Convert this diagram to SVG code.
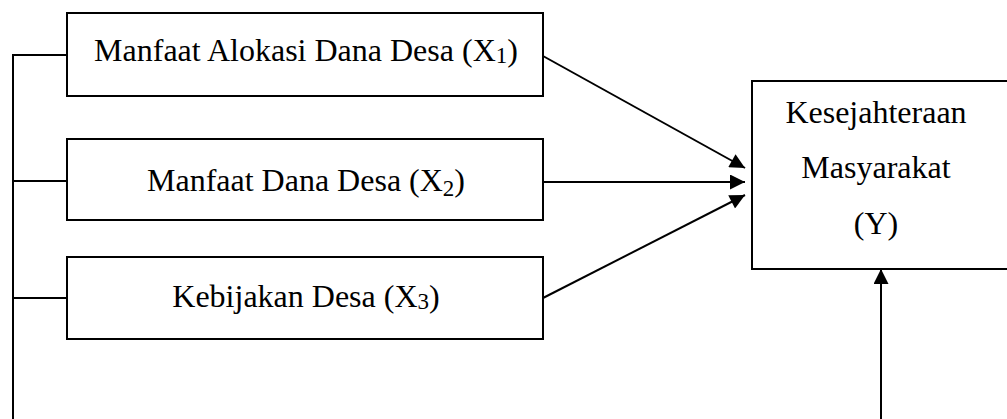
<svg xmlns="http://www.w3.org/2000/svg" width="1007" height="419" viewBox="0 0 1007 419">
<defs>
<style>
.box{fill:#fff;stroke:#000;stroke-width:2}
.ln{fill:none;stroke:#000;stroke-width:2}
.t{font-family:"Liberation Serif","Times New Roman",serif;font-size:32px;fill:#000;text-anchor:middle}
.sub{font-size:23px}
</style>
<marker id="ah" viewBox="0 0 10 10" refX="10" refY="5" markerWidth="8" markerHeight="7.5" markerUnits="strokeWidth" orient="auto">
<path d="M0,0 L10,5 L0,10 z" fill="#000"/>
</marker>
</defs>
<rect width="1007" height="419" fill="#fff"/>
<g id="connectors">
<path class="ln" d="M13,419 V55 H67 M13,181 H67 M13,298 H67"/>
<line class="ln" x1="543" y1="56" x2="745" y2="168" marker-end="url(#ah)"/>
<line class="ln" x1="543" y1="182" x2="745" y2="182" marker-end="url(#ah)"/>
<line class="ln" x1="543" y1="298" x2="745" y2="195" marker-end="url(#ah)"/>
<line class="ln" x1="881" y1="419" x2="881" y2="269" marker-end="url(#ah)"/>
</g>
<g id="x1">
<rect class="box" x="67" y="13" width="476" height="83"/>
<text class="t" x="306" y="61">Manfaat Alokasi Dana Desa (X<tspan class="sub" dy="2">1</tspan><tspan dy="-2">)</tspan></text>
</g>
<g id="x2">
<rect class="box" x="67" y="139" width="476" height="81"/>
<text class="t" x="306" y="191">Manfaat Dana Desa (X<tspan class="sub" dy="5">2</tspan><tspan dy="-5">)</tspan></text>
</g>
<g id="x3">
<rect class="box" x="67" y="257" width="476" height="82"/>
<text class="t" x="306" y="307">Kebijakan Desa (X<tspan class="sub" dy="2">3</tspan><tspan dy="-2">)</tspan></text>
</g>
<g id="y">
<rect class="box" x="752" y="81" width="270" height="188"/>
<text class="t" x="876" y="123">Kesejahteraan</text>
<text class="t" x="876" y="178">Masyarakat</text>
<text class="t" x="876" y="234">(Y)</text>
</g>
</svg>
